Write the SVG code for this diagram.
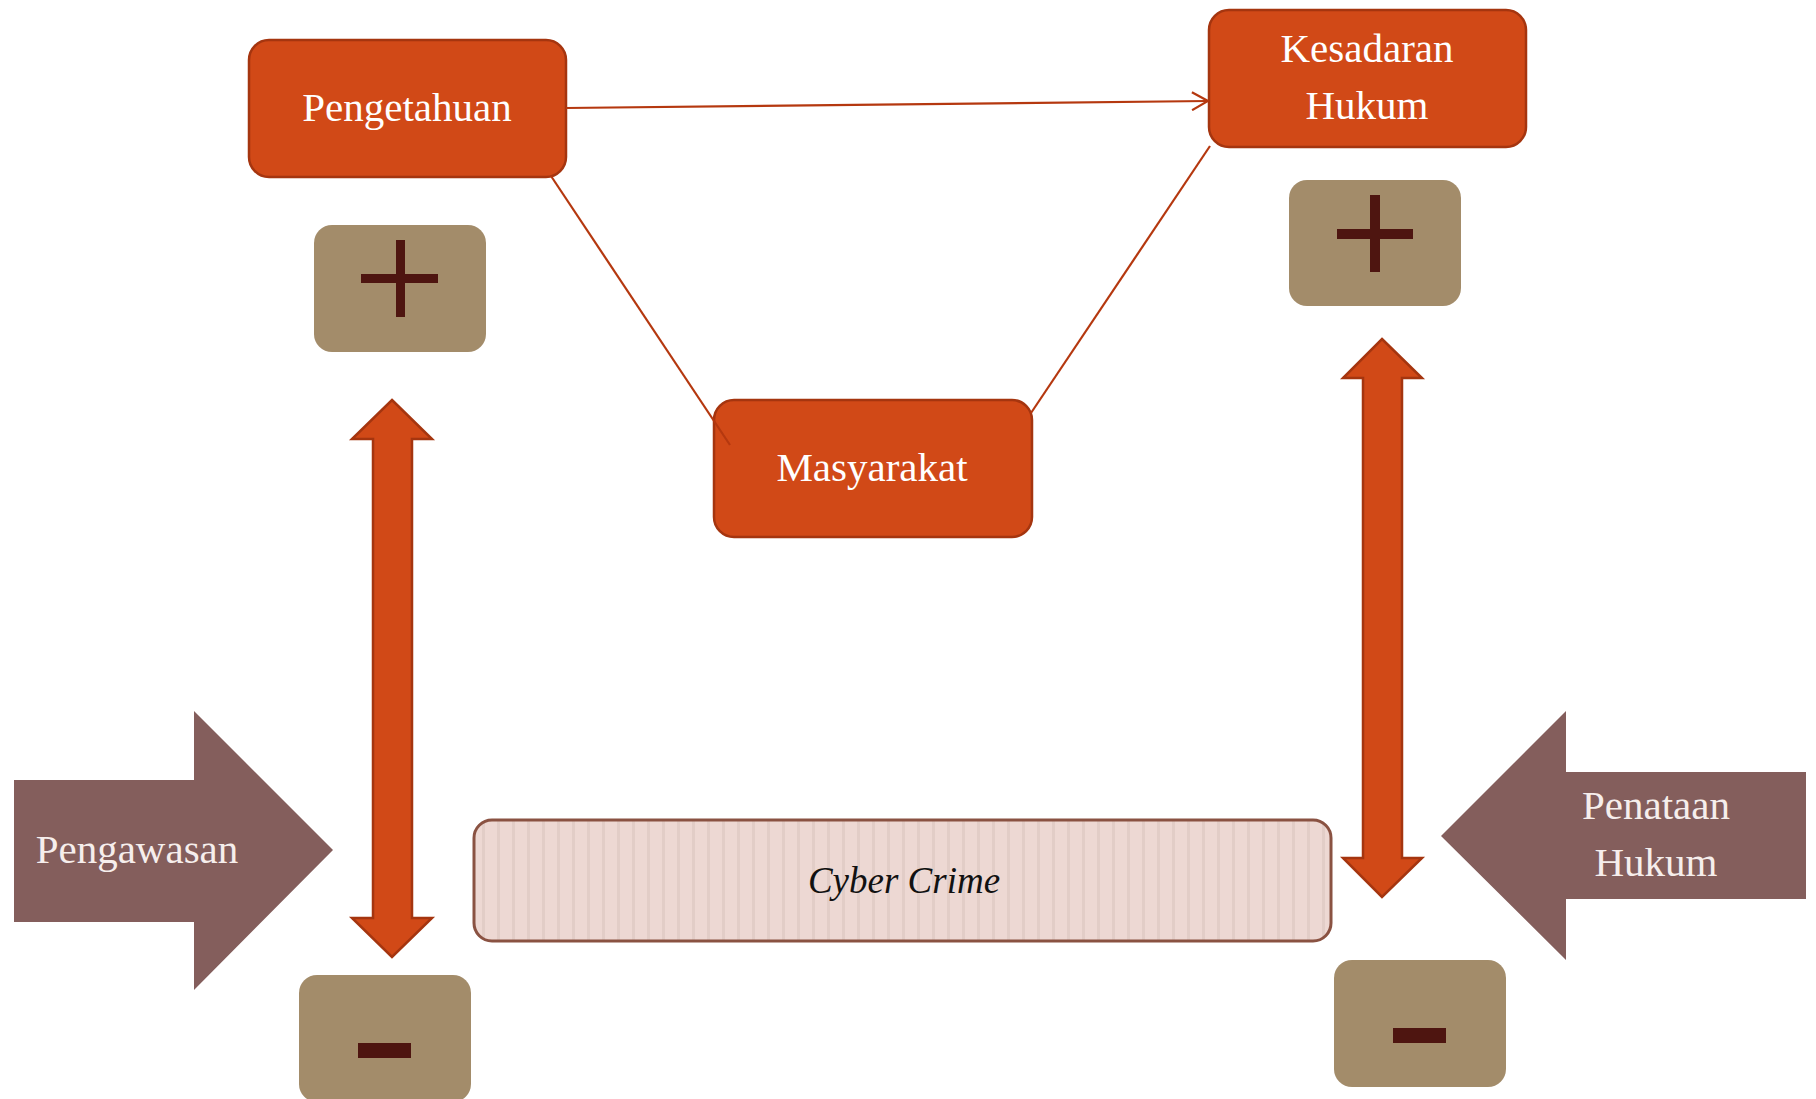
<svg xmlns="http://www.w3.org/2000/svg" width="1816" height="1099" viewBox="0 0 1816 1099">
  <style>
    .box { fill: #D14917; stroke: #A5350F; stroke-width: 2.5; }
    .wt { fill: #FFFFFF; font-family: "Liberation Serif", "DejaVu Serif", serif; font-size: 41px; text-anchor: middle; }
    .sign { fill: #A38C6A; }
    .mark { fill: #4E1510; }
    .dbl { fill: #D14917; stroke: #A5350F; stroke-width: 2.5; stroke-linejoin: miter; }
    .big { fill: #845E5C; }
    .link { stroke: #B5380F; stroke-width: 2.2; fill: none; }
  </style>
  <defs>
    <pattern id="stripes" x="474" y="0" width="15" height="20" patternUnits="userSpaceOnUse">
      <rect x="0" y="0" width="15" height="20" fill="#EDD8D3"/>
      <rect x="8" y="0" width="3" height="20" fill="#E2CDC7"/>
    </pattern>
    <marker id="chev" viewBox="0 0 20 20" refX="18" refY="10" markerWidth="20" markerHeight="20" markerUnits="userSpaceOnUse" orient="auto">
      <path d="M2,1 L18,10 L2,19" fill="none" stroke="#B5380F" stroke-width="2.2"/>
    </marker>
  </defs>

  <!-- main nodes -->
  <g id="pengetahuan">
    <rect class="box" x="249" y="40" width="317" height="137" rx="20"/>
    <text class="wt" x="407" y="121">Pengetahuan</text>
  </g>
  <g id="kesadaran-hukum">
    <rect class="box" x="1209" y="10" width="317" height="137" rx="20"/>
    <text class="wt" x="1367" y="62">Kesadaran</text>
    <text class="wt" x="1367" y="119">Hukum</text>
  </g>
  <g id="masyarakat">
    <rect class="box" x="714" y="400" width="318" height="137" rx="20"/>
    <text class="wt" x="872" y="481">Masyarakat</text>
  </g>

  <!-- connectors, drawn over the boxes -->
  <g id="connectors">
    <line class="link" x1="566" y1="108" x2="1208" y2="101" marker-end="url(#chev)"/>
    <line class="link" x1="551" y1="176" x2="730" y2="445"/>
    <line class="link" x1="1031" y1="413" x2="1210" y2="146"/>
  </g>

  <!-- plus / minus tiles -->
  <g id="plus-left">
    <rect class="sign" x="314" y="225" width="172" height="127" rx="18"/>
    <rect class="mark" x="396" y="240" width="9" height="77"/>
    <rect class="mark" x="361" y="274" width="77" height="9"/>
  </g>
  <g id="plus-right">
    <rect class="sign" x="1289" y="180" width="172" height="126" rx="18"/>
    <rect class="mark" x="1370" y="195" width="10" height="77"/>
    <rect class="mark" x="1337" y="229" width="76" height="10"/>
  </g>
  <g id="minus-left">
    <rect class="sign" x="299" y="975" width="172" height="127" rx="18"/>
    <rect class="mark" x="358" y="1043" width="53" height="15"/>
  </g>
  <g id="minus-right">
    <rect class="sign" x="1334" y="960" width="172" height="127" rx="18"/>
    <rect class="mark" x="1393" y="1028" width="53" height="15"/>
  </g>

  <!-- vertical double arrows -->
  <g id="scale-left">
    <path class="dbl" d="M392,400 L432,439 L412,439 L412,918 L432,918 L392,957 L352,918 L373,918 L373,439 L352,439 Z"/>
  </g>
  <g id="scale-right">
    <path class="dbl" d="M1382,339 L1422,378 L1402,378 L1402,858 L1422,858 L1382,897 L1343,858 L1363,858 L1363,378 L1343,378 Z"/>
  </g>

  <!-- side block arrows -->
  <g id="pengawasan">
    <path class="big" d="M14,780 L194,780 L194,711 L333,850 L194,990 L194,922 L14,922 Z"/>
    <text class="wt" x="137" y="863" style="fill:#F6EEEC">Pengawasan</text>
  </g>
  <g id="penataan-hukum">
    <path class="big" d="M1806,772 L1566,772 L1566,711 L1441,836 L1566,960 L1566,899 L1806,899 Z"/>
    <text class="wt" x="1656" y="819" style="fill:#F6EEEC">Penataan</text>
    <text class="wt" x="1656" y="876" style="fill:#F6EEEC">Hukum</text>
  </g>

  <!-- central bar -->
  <g id="cyber-crime">
    <rect x="474" y="820" width="857" height="121" rx="18" fill="url(#stripes)" stroke="#8A5242" stroke-width="3"/>
    <text x="904" y="893" font-family="Liberation Serif, DejaVu Serif, serif" font-size="37" font-style="italic" text-anchor="middle" fill="#111111">Cyber Crime</text>
  </g>
</svg>
